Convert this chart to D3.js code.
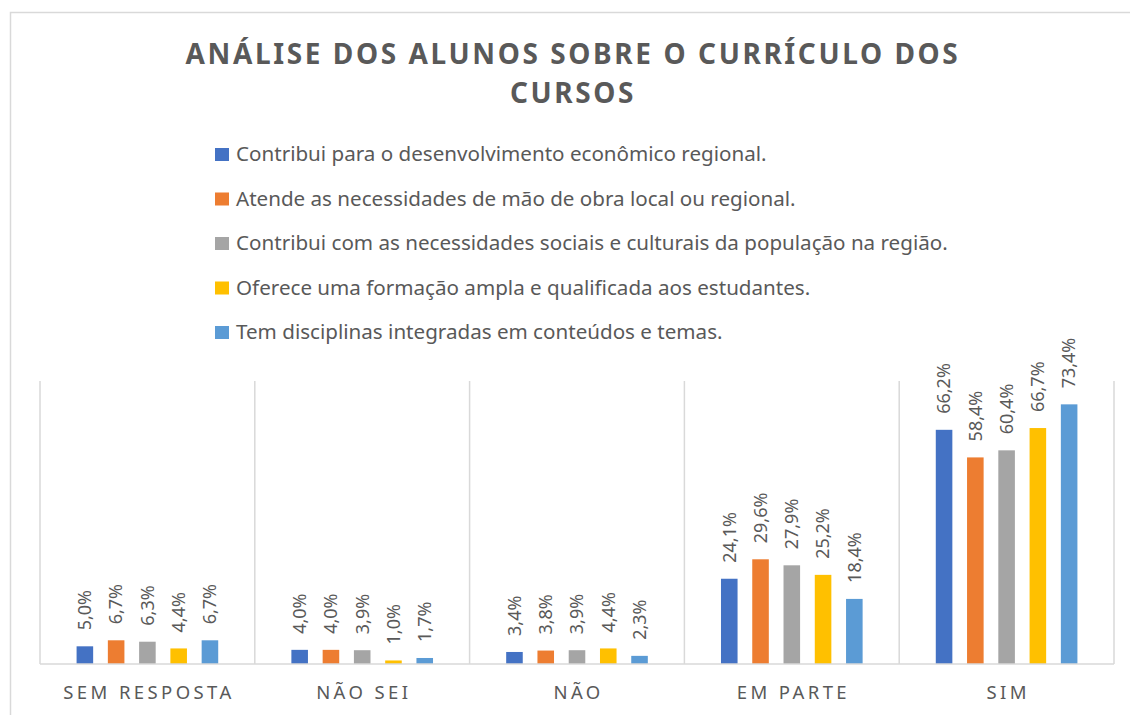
<!DOCTYPE html>
<html>
<head>
<meta charset="utf-8">
<script src="https://cdn.jsdelivr.net/npm/d3@7"></script>
<style>
  body { margin: 0; background: #fff; }
  text { font-family: "Noto Sans", sans-serif; fill: #595959; }
</style>
</head>
<body>
<div id="chart"></div>
<script>
// categories and series
var categories = ["SEM RESPOSTA", "NÃO SEI", "NÃO", "EM PARTE", "SIM"];
var seriesNames = [
  "Contribui para o desenvolvimento econômico regional.",
  "Atende as necessidades de mão de obra local ou regional.",
  "Contribui com as necessidades sociais e culturais da população na região.",
  "Oferece uma formação ampla e qualificada aos estudantes.",
  "Tem disciplinas integradas em conteúdos e temas."
];
var serie1 = [5.0, 4.0, 3.4, 24.1, 66.2];
var serie2 = [6.7, 4.0, 3.8, 29.6, 58.4];
var serie3 = [6.3, 3.9, 3.9, 27.9, 60.4];
var serie4 = [4.4, 1.0, 4.4, 25.2, 66.7];
var serie5 = [6.7, 1.7, 2.3, 18.4, 73.4];
var colors = ["#4472C4", "#ED7D31", "#A5A5A5", "#FFC000", "#5B9BD5"];
var titleLines = ["ANÁLISE DOS ALUNOS SOBRE O CURRÍCULO DOS", "CURSOS"];

var allSeries = [serie1, serie2, serie3, serie4, serie5];

var width = 1130, height = 715;
var margin = {left: 40, right: 16, top: 381, bottom: 51};

var svg = d3.select("#chart").append("svg")
  .attr("width", width)
  .attr("height", height);

// outer frame of the chart
svg.append("rect")
  .attr("x", 10.5).attr("y", 12.5)
  .attr("width", width + 20).attr("height", height + 20)
  .style("fill", "#fff")
  .style("stroke", "#d9d9d9")
  .style("stroke-width", 1.5);

// title
svg.append("g").selectAll("text")
  .data(titleLines)
.enter().append("text")
  .attr("x", 573)
  .attr("y", function(d, i) { return 64 + i * 39; })
  .attr("text-anchor", "middle")
  .style("font-size", "28px")
  .style("font-weight", "bold")
  .style("letter-spacing", "2.6px")
  .text(function(d) { return d; });

// legend
var legend = svg.append("g").attr("transform", "translate(215,0)");
var legendRow = legend.selectAll("g")
  .data(seriesNames)
.enter().append("g")
  .attr("transform", function(d, i) { return "translate(0," + (161 + i * 44.5) + ")"; });
legendRow.append("rect")
  .attr("x", 0).attr("y", -13)
  .attr("width", 14).attr("height", 13)
  .style("fill", function(d, i) { return colors[i]; });
legendRow.append("text")
  .attr("x", 21).attr("y", 0)
  .style("font-size", "20.6px")
  .text(function(d) { return d; });

// scales
var x0 = d3.scaleBand()
  .domain(categories)
  .range([margin.left, width - margin.right]);
var x1 = d3.scaleBand()
  .domain(d3.range(allSeries.length))
  .range([0, x0.bandwidth()])
  .paddingInner(0.47)
  .paddingOuter(1.17);
var y = d3.scaleLinear()
  .domain([0, 80])
  .range([height - margin.bottom, margin.top]);

// vertical separators between categories
var bounds = categories.map(function(c) { return x0(c); }).concat([x0.range()[1]]);
svg.append("g").selectAll("line")
  .data(bounds)
.enter().append("line")
  .attr("x1", function(d) { return d; })
  .attr("x2", function(d) { return d; })
  .attr("y1", y(80))
  .attr("y2", y(0))
  .style("stroke", "#d9d9d9")
  .style("stroke-width", 1.5);

// bars
var groups = svg.append("g").selectAll("g")
  .data(categories)
.enter().append("g")
  .attr("transform", function(d) { return "translate(" + x0(d) + ",0)"; });

var cells = groups.selectAll("g")
  .data(function(d, ci) {
    return allSeries.map(function(s, si) { return {s: si, v: s[ci]}; });
  })
.enter().append("g");

cells.append("rect")
  .attr("x", function(d) { return x1(d.s); })
  .attr("y", function(d) { return y(d.v); })
  .attr("width", x1.bandwidth())
  .attr("height", function(d) { return y(0) - y(d.v); })
  .style("fill", function(d) { return colors[d.s]; });

cells.append("text")
  .attr("transform", function(d) {
    return "translate(" + (x1(d.s) + x1.bandwidth() / 2) + "," + (y(d.v) - 16) + ") rotate(-90)";
  })
  .attr("dy", "0.35em")
  .style("font-size", "18px")
  .text(function(d) { return d.v.toFixed(1).replace(".", ",") + "%"; });

// x axis line
svg.append("line")
  .attr("x1", x0.range()[0]).attr("x2", x0.range()[1])
  .attr("y1", y(0)).attr("y2", y(0))
  .style("stroke", "#d9d9d9")
  .style("stroke-width", 1.5);

// category labels
svg.append("g").selectAll("text")
  .data(categories)
.enter().append("text")
  .attr("x", function(d) { return x0(d) + x0.bandwidth() / 2 + 1.6; })
  .attr("y", 699)
  .attr("text-anchor", "middle")
  .style("font-size", "18.5px")
  .style("letter-spacing", "3.4px")
  .text(function(d) { return d; });
</script>
</body>
</html>
